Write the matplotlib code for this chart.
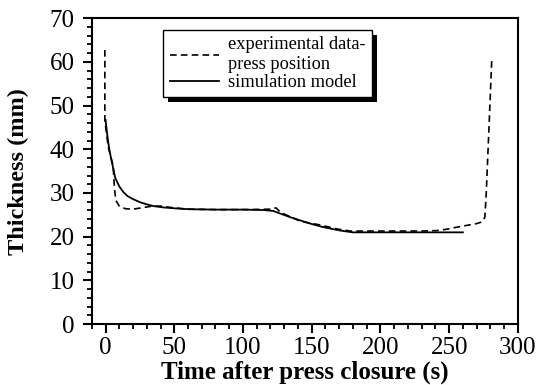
import matplotlib.pyplot as plt
from matplotlib.patches import Rectangle
from matplotlib.ticker import MultipleLocator

# experimental data (press position)
exp_t = [-0.5, -0.5, 2, 4, 5.5, 6.5, 7.5, 10, 14.5, 20, 26, 34, 40, 50, 60, 80, 100, 120, 124, 127, 130,
         142, 156, 168, 178, 190, 210, 230, 241, 248, 256, 263, 270, 274, 276, 277, 279, 281]
exp_y = [62.7, 46.5, 40.5, 38, 36.3, 31, 28.3, 27.0, 26.4, 26.3, 26.6, 27.0, 27.0, 26.6, 26.3, 26.2, 26.2, 26.3, 26.6, 25.7, 25.2,
         23.5, 22.7, 21.8, 21.3, 21.3, 21.3, 21.3, 21.4, 21.7, 22.2, 22.6, 23.0, 23.4, 24.5, 30, 45, 60.4]

# simulation model
sim_t = [0, 1, 2, 3, 5, 7, 10, 13, 16, 20, 25, 30, 35, 42, 50, 60, 80, 100, 115, 122, 128,
         135, 142, 149, 157, 163, 171, 180, 200, 230, 260]
sim_y = [46.7, 44, 41.5, 39.5, 36.5, 33.5, 31.5, 30.2, 29.3, 28.6, 27.9, 27.4, 27.0, 26.7, 26.5, 26.3, 26.2, 26.2, 26.1, 25.9, 25.2,
         24.4, 23.7, 23.0, 22.3, 21.9, 21.4, 21.0, 21.0, 21.0, 21.0]

plt.rcParams['font.family'] = ['Liberation Serif', 'DejaVu Serif']

fig = plt.figure(figsize=(5.4, 3.85), dpi=100)
ax = fig.add_axes([0.170, 0.158, 0.789, 0.795])

ax.plot(exp_t, exp_y, color='black', linewidth=1.2, dashes=(4, 2.5),
        label='experimental data-\npress position')
ax.plot(sim_t, sim_y, color='black', linewidth=1.3, label='simulation model')

ax.set_xlim(-10, 300)
ax.set_ylim(0, 70)
ax.xaxis.set_major_locator(MultipleLocator(50))
ax.xaxis.set_minor_locator(MultipleLocator(10))
ax.yaxis.set_major_locator(MultipleLocator(10))
ax.yaxis.set_minor_locator(MultipleLocator(2))
ax.tick_params(which='major', direction='out', length=6.5, width=1.5, labelsize=18)
ax.tick_params(axis='y', which='major', pad=6)
ax.tick_params(axis='x', which='major', pad=3)
ax.tick_params(which='minor', direction='out', length=3.5, width=1.3)
for s in ax.spines.values():
    s.set_linewidth(1.5)

ax.set_xlabel('Time after press closure (s)', fontsize=18, fontweight='bold', labelpad=1)
ax.set_ylabel('Thickness (mm)', fontsize=17.5, fontweight='bold', labelpad=15)

leg = ax.legend(loc='upper left', bbox_to_anchor=(0.168, 0.961), fontsize=13.2,
                handlelength=2.7, frameon=True, fancybox=False, edgecolor='black',
                framealpha=1, borderpad=0.35, labelspacing=0.05, handletextpad=0.5,
                borderaxespad=0)
leg.get_frame().set_linewidth(1.0)

# solid black drop shadow, offset down-right
fig.canvas.draw()
bb = leg.get_window_extent()
ax.add_patch(Rectangle((bb.x0 + 4.5, bb.y0 - 4.5), bb.width, bb.height,
                       transform=None, facecolor='black', edgecolor='none', zorder=4.9))

fig.savefig('out.png', dpi=100, facecolor='white')
